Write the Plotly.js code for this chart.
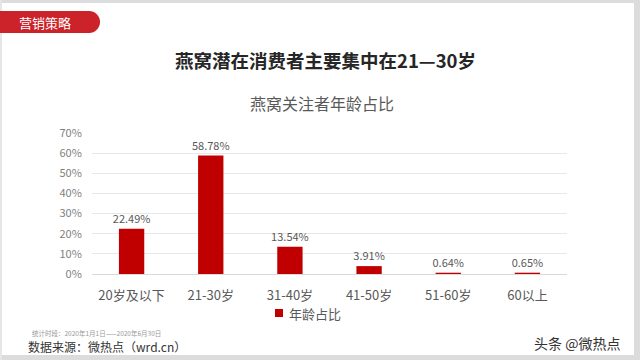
<!DOCTYPE html>
<html><head><meta charset="utf-8">
<script src="https://cdn.plot.ly/plotly-3.0.1.min.js"></script>
<style>html,body{margin:0;padding:0;background:#fff}#c{width:640px;height:360px}</style>
</head><body><div id="c"></div>
<script>
const categories = ['20岁及以下','21-30岁','31-40岁','41-50岁','51-60岁','60以上'];
const shares = [22.49, 58.78, 13.54, 3.91, 0.64, 0.65];
const yTickVals = [0,10,20,30,40,50,60,70];
const yTickText = ['0%','10%','20%','30%','40%','50%','60%','70%'];
const seriesName = '年龄占比';

const L=92, R=567, T=133, B=274;
const px = x => (x - L)/(R - L);
const py = y => (B - y)/(B - T);
const F = '"Noto Sans CJK SC", "Noto Sans", sans-serif';

const trace = {
  type:'bar', x:categories, y:shares, name:seriesName,
  marker:{color:'#c00000'},
  text: shares.map(v=>v.toFixed(2)+'%'), textposition:'outside', constraintext:'none',
  textfont:{family:F, size:11, color:'#595959'}, cliponaxis:false,
  hoverinfo:'none', showlegend:false
};

const shapes = [
  {type:'rect', xref:'paper', yref:'paper', x0:px(0), x1:px(640), y0:py(0), y1:py(3), fillcolor:'#dcdcdc', line:{width:0}, layer:'below'},
  {type:'rect', xref:'paper', yref:'paper', x0:px(634), x1:px(640), y0:py(0), y1:py(360), fillcolor:'#dcdcdc', line:{width:0}, layer:'below'},
  {type:'rect', xref:'paper', yref:'paper', x0:px(0), x1:px(640), y0:py(355), y1:py(360), fillcolor:'#dcdcdc', line:{width:0}, layer:'below'},
  {type:'rect', xref:'paper', yref:'paper', x0:px(0), x1:px(2), y0:py(0), y1:py(360), fillcolor:'#e6e6e6', line:{width:0}, layer:'below'},
  {type:'rect', xref:'paper', yref:'paper', x0:px(0), x1:px(90), y0:py(11), y1:py(33), fillcolor:'#cc2229', line:{width:0}},
  {type:'circle', xref:'paper', yref:'paper', x0:px(78), x1:px(100), y0:py(11), y1:py(33), fillcolor:'#cc2229', line:{width:0}},
  {type:'rect', xref:'paper', yref:'paper', x0:px(275), x1:px(283), y0:py(309), y1:py(317), fillcolor:'#c00000', line:{width:0}}
];

const annotations = [
  {text:'营销策略', xref:'paper', yref:'paper', x:px(45), y:py(22), showarrow:false, xanchor:'center', yanchor:'middle', font:{family:F, size:13, color:'#ffffff'}},
  {text:'<b>燕窝潜在消费者主要集中在21—30岁</b>', xref:'paper', yref:'paper', x:px(325), y:py(60), showarrow:false, xanchor:'center', yanchor:'middle', font:{family:F, size:18.5, color:'#262626'}},
  {text:'燕窝关注者年龄占比', xref:'paper', yref:'paper', x:px(322), y:py(103), showarrow:false, xanchor:'center', yanchor:'middle', font:{family:F, size:16, color:'#595959'}},
  {text:seriesName, xref:'paper', yref:'paper', x:px(287), y:py(313), showarrow:false, xanchor:'left', yanchor:'middle', font:{family:F, size:13, color:'#595959'}},
  {text:'统计时段：2020年1月1日——2020年6月30日', xref:'paper', yref:'paper', x:px(30), y:py(333), showarrow:false, xanchor:'left', yanchor:'middle', font:{family:F, size:6.5, color:'#999999'}},
  {text:'数据来源：微热点（wrd.cn）', xref:'paper', yref:'paper', x:px(26), y:py(346), showarrow:false, xanchor:'left', yanchor:'middle', font:{family:F, size:12, color:'#333333'}},
  {text:'头条 @微热点', xref:'paper', yref:'paper', x:px(622), y:py(343), showarrow:false, xanchor:'right', yanchor:'middle', font:{family:F, size:14, color:'#333333'}}
];

const layout = {
  width:640, height:360,
  margin:{l:L, r:640-R, t:T, b:360-B, pad:0},
  paper_bgcolor:'#ffffff', plot_bgcolor:'#ffffff',
  bargap:0.68,
  showlegend:false,
  xaxis:{tickfont:{family:F, size:13, color:'#595959'}, showline:false, ticks:'', ticklabelstandoff:12, fixedrange:true},
  yaxis:{range:[0,70], tickvals:yTickVals, ticktext:yTickText, tickfont:{family:F, size:11, color:'#7f7f7f'},
    gridcolor:'#e8e8e8', zeroline:true, zerolinecolor:'#d9d9d9', showline:false, ticks:'outside', ticklen:7, tickcolor:'rgba(0,0,0,0)'},
  shapes, annotations
};
Plotly.newPlot('c',[trace],layout,{staticPlot:true});
</script></body></html>
